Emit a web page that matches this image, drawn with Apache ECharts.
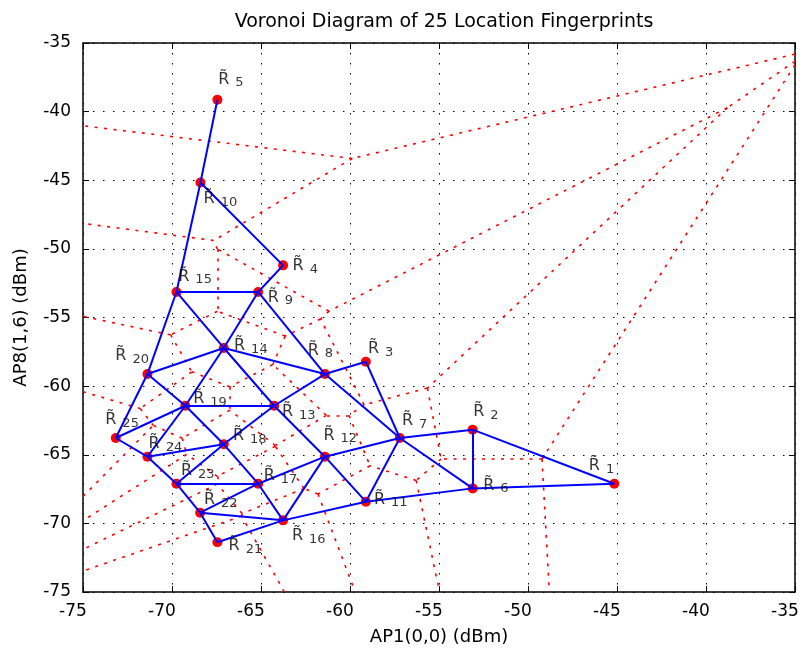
<!DOCTYPE html>
<html>
<head>
<meta charset="utf-8">
<script src="https://cdn.jsdelivr.net/npm/echarts@6/dist/echarts.min.js"></script>
<style>html,body{margin:0;padding:0;background:#fff}#chart{width:803px;height:652px}</style>
</head>
<body>
<div id="chart"></div>
<script>
// ---- data ----
const fingerprintNames = ['1','2','3','4','5','6','7','8','9','10','11','12','13','14','15','16','17','18','19','20','21','22','23','24','25'];
const fingerprintX = [-45.15,-53.11,-59.11,-63.76,-67.45,-53.11,-57.20,-61.41,-65.16,-68.40,-59.11,-61.41,-64.26,-67.09,-69.75,-63.76,-65.16,-67.09,-69.25,-71.38,-67.45,-68.42,-69.75,-71.38,-73.16];
const fingerprintY = [-67.11,-63.17,-58.22,-51.20,-39.13,-67.45,-63.78,-59.12,-53.14,-45.16,-68.42,-65.14,-61.43,-57.22,-53.14,-69.78,-67.11,-64.24,-61.43,-59.12,-71.38,-69.22,-67.11,-65.14,-63.78];
const neighborLinks = [[5,10],[10,4],[10,15],[4,9],[15,9],[15,14],[15,20],[9,14],[9,8],[14,8],[14,20],[14,19],[14,13],[20,19],[20,25],[8,3],[8,13],[8,7],[3,7],[19,13],[19,25],[19,18],[19,24],[13,18],[13,12],[25,24],[18,24],[18,23],[18,17],[12,7],[12,17],[12,16],[12,11],[7,11],[7,2],[7,6],[2,6],[2,1],[6,1],[11,6],[11,16],[24,23],[23,17],[23,22],[17,16],[17,22],[22,16],[22,21],[21,16]];
const axisMin = -75, axisMax = -35, axisStep = 5;
const titleText = 'Voronoi Diagram of 25 Location Fingerprints';
const xName = 'AP1(0,0) (dBm)';
const yName = 'AP8(1,6) (dBm)';

// ---- label placement (pixel offsets of the R glyph centre from its point) ----
const labelOffsets = [[-20,-17],[6,-17],[7.6,-12],[15,1.6],[6.3,-19.3],[16,-2],[7.6,-16],[-11.7,-22.6],[15,6.6],[8.6,17.3],[13.6,-1.3],[4,-20.3],[13.3,7.3],[15.7,-1],[7.3,-14.4],[14.4,16.7],[11,-6.6],[14.6,-7.4],[13.3,-6],[-26.6,-17],[16.7,4.6],[9.3,-11.6],[10,-11.6],[6.6,-11.7],[-5,-17]];

// ---- Voronoi diagram computed from the fingerprints (Delaunay dual) ----
function circum(a,b,c){
  const ax=a[0],ay=a[1],bx=b[0],by=b[1],cx=c[0],cy=c[1];
  const d=2*(ax*(by-cy)+bx*(cy-ay)+cx*(ay-by));
  const a2=ax*ax+ay*ay,b2=bx*bx+by*by,c2=cx*cx+cy*cy;
  const ux=(a2*(by-cy)+b2*(cy-ay)+c2*(ay-by))/d;
  const uy=(a2*(cx-bx)+b2*(ax-cx)+c2*(bx-ax))/d;
  return [ux,uy,(ax-ux)*(ax-ux)+(ay-uy)*(ay-uy)];
}
function delaunay(P){
  const n=P.length;
  let x0=Infinity,x1=-Infinity,y0=Infinity,y1=-Infinity;
  P.forEach(p=>{x0=Math.min(x0,p[0]);x1=Math.max(x1,p[0]);y0=Math.min(y0,p[1]);y1=Math.max(y1,p[1]);});
  const mx=(x0+x1)/2,my=(y0+y1)/2,big=Math.max(x1-x0,y1-y0)*2000;
  const V=P.slice();V.push([mx-big,my-big],[mx+big,my-big],[mx,my+big]);
  let tris=[{v:[n,n+1,n+2],c:circum(V[n],V[n+1],V[n+2])}];
  for(let i=0;i<n;i++){
    const p=V[i];const keep=[];const edges=new Map();
    tris.forEach(t=>{
      const dx=p[0]-t.c[0],dy=p[1]-t.c[1];
      if(dx*dx+dy*dy<t.c[2]){
        [[t.v[0],t.v[1]],[t.v[1],t.v[2]],[t.v[2],t.v[0]]].forEach(([a,b])=>{
          const k=a<b?a+'_'+b:b+'_'+a;
          if(!edges.has(k))edges.set(k,{a:a,b:b,c:0});
          edges.get(k).c++;
        });
      } else keep.push(t);
    });
    tris=keep;
    edges.forEach(e=>{if(e.c===1)tris.push({v:[e.a,e.b,i],c:circum(V[e.a],V[e.b],p)});});
  }
  return tris.filter(t=>t.v.every(k=>k<n));
}
function clip(p,q){
  let t0=0,t1=1;const dx=q[0]-p[0],dy=q[1]-p[1];
  const P=[-dx,dx,-dy,dy],Q=[p[0]-axisMin,axisMax-p[0],p[1]-axisMin,axisMax-p[1]];
  for(let i=0;i<4;i++){
    if(P[i]===0){if(Q[i]<0)return null;}
    else{const r=Q[i]/P[i];if(P[i]<0){if(r>t1)return null;if(r>t0)t0=r;}else{if(r<t0)return null;if(r<t1)t1=r;}}
  }
  return [[p[0]+t0*dx,p[1]+t0*dy],[p[0]+t1*dx,p[1]+t1*dy]];
}
const pts=fingerprintX.map((x,i)=>[x,fingerprintY[i]]);
const tris=delaunay(pts);
const edgeTris=new Map();
tris.forEach((t,ti)=>{
  [[t.v[0],t.v[1],t.v[2]],[t.v[1],t.v[2],t.v[0]],[t.v[2],t.v[0],t.v[1]]].forEach(([a,b,c])=>{
    const k=a<b?a+'_'+b:b+'_'+a;
    if(!edgeTris.has(k))edgeTris.set(k,{a:a,b:b,list:[]});
    edgeTris.get(k).list.push({t:ti,c:c});
  });
});
const voronoiSegs=[];
edgeTris.forEach(e=>{
  let s=null;
  if(e.list.length===2){
    const c1=tris[e.list[0].t].c,c2=tris[e.list[1].t].c;
    s=clip([c1[0],c1[1]],[c2[0],c2[1]]);
  } else {
    const cc=tris[e.list[0].t].c,A=pts[e.a],B=pts[e.b],C=pts[e.list[0].c];
    let nx=-(B[1]-A[1]),ny=B[0]-A[0];
    if(nx*(C[0]-A[0])+ny*(C[1]-A[1])>0){nx=-nx;ny=-ny;}
    const L=Math.hypot(nx,ny);
    s=clip([cc[0],cc[1]],[cc[0]+nx/L*2000,cc[1]+ny/L*2000]);
  }
  if(s)voronoiSegs.push({coords:s});
});

const FONT='DejaVu Sans';
const chart=echarts.init(document.getElementById('chart'),null,{renderer:'canvas'});
const baseAxis={type:'value',min:axisMin,max:axisMax,interval:axisStep};
chart.setOption({
  animation:false,
  backgroundColor:'#ffffff',
  title:{text:titleText,left:439,textAlign:'center',top:8,textStyle:{fontFamily:FONT,fontSize:19,fontWeight:'normal',color:'#000'}},
  grid:{left:83,top:43,right:8,bottom:60,containLabel:false,outerBoundsMode:'none'},
  xAxis:[
    Object.assign({},baseAxis,{position:'bottom',name:xName,nameLocation:'middle',nameGap:36,
      nameTextStyle:{fontFamily:FONT,fontSize:18,color:'#000'},
      axisLine:{show:true,onZero:false,lineStyle:{color:'#000',width:1.5}},
      axisTick:{show:true,inside:true,length:6,lineStyle:{color:'#000',width:1}},
      axisLabel:{show:true,margin:11,fontFamily:FONT,fontSize:17,color:'#000',
        formatter:v=>'{t|'+v+'}',rich:{t:{fontFamily:FONT,fontSize:17,color:'#000',padding:[0,20,0,0]}}},
      splitLine:{show:true,lineStyle:{color:'#000',width:1,type:[1.5,8.5]}}}),
    Object.assign({},baseAxis,{position:'top',
      axisLine:{show:true,onZero:false,lineStyle:{color:'#000',width:1.5}},
      axisTick:{show:true,inside:true,length:6,lineStyle:{color:'#000',width:1}},
      axisLabel:{show:false},splitLine:{show:false}})
  ],
  yAxis:[
    Object.assign({},baseAxis,{position:'left',name:yName,nameLocation:'middle',nameGap:53,nameRotate:90,
      nameTextStyle:{fontFamily:FONT,fontSize:18,color:'#000'},
      axisLine:{show:true,onZero:false,lineStyle:{color:'#000',width:1.5}},
      axisTick:{show:true,inside:true,length:6,lineStyle:{color:'#000',width:1}},
      axisLabel:{show:true,margin:12,fontFamily:FONT,fontSize:17,color:'#000',padding:[5,0,0,0]},
      splitLine:{show:true,lineStyle:{color:'#000',width:1,type:[1.5,8.5]}}}),
    Object.assign({},baseAxis,{position:'right',
      axisLine:{show:true,onZero:false,lineStyle:{color:'#000',width:1.5}},
      axisTick:{show:true,inside:true,length:6,lineStyle:{color:'#000',width:1}},
      axisLabel:{show:false},splitLine:{show:false}})
  ],
  series:[
    {type:'lines',coordinateSystem:'cartesian2d',xAxisIndex:0,yAxisIndex:0,z:2,silent:true,polyline:false,
      lineStyle:{color:'#ff0000',width:1.6,opacity:1,type:[3,6.5]},data:voronoiSegs},
    {type:'scatter',xAxisIndex:0,yAxisIndex:0,z:3,silent:true,symbol:'circle',symbolSize:10,
      itemStyle:{color:'#ff0000',opacity:1},data:pts},
    {type:'lines',coordinateSystem:'cartesian2d',xAxisIndex:0,yAxisIndex:0,z:4,silent:true,polyline:false,
      lineStyle:{color:'#0000ff',width:2,opacity:1,type:'solid'},
      data:neighborLinks.map(([a,b])=>({coords:[pts[a-1],pts[b-1]]}))},
    {type:'scatter',xAxisIndex:0,yAxisIndex:0,z:6,silent:true,symbol:'circle',symbolSize:2,
      itemStyle:{color:'rgba(0,0,0,0)'},
      label:{show:true,formatter:p=>'{r|R\u0303}{s|'+fingerprintNames[p.dataIndex]+'}',
        rich:{r:{fontFamily:FONT,fontSize:16,color:'#000',lineHeight:18,verticalAlign:'top'},
              s:{fontFamily:FONT,fontSize:13,color:'#000',lineHeight:14,padding:[12,0,0,6],verticalAlign:'bottom'}}},
      labelLayout:{hideOverlap:false},
      data:pts.map((p,i)=>({value:p,label:{position:[labelOffsets[i][0]-5.5+1,labelOffsets[i][1]-9+1]}}))}
  ]
});
</script>
</body>
</html>
